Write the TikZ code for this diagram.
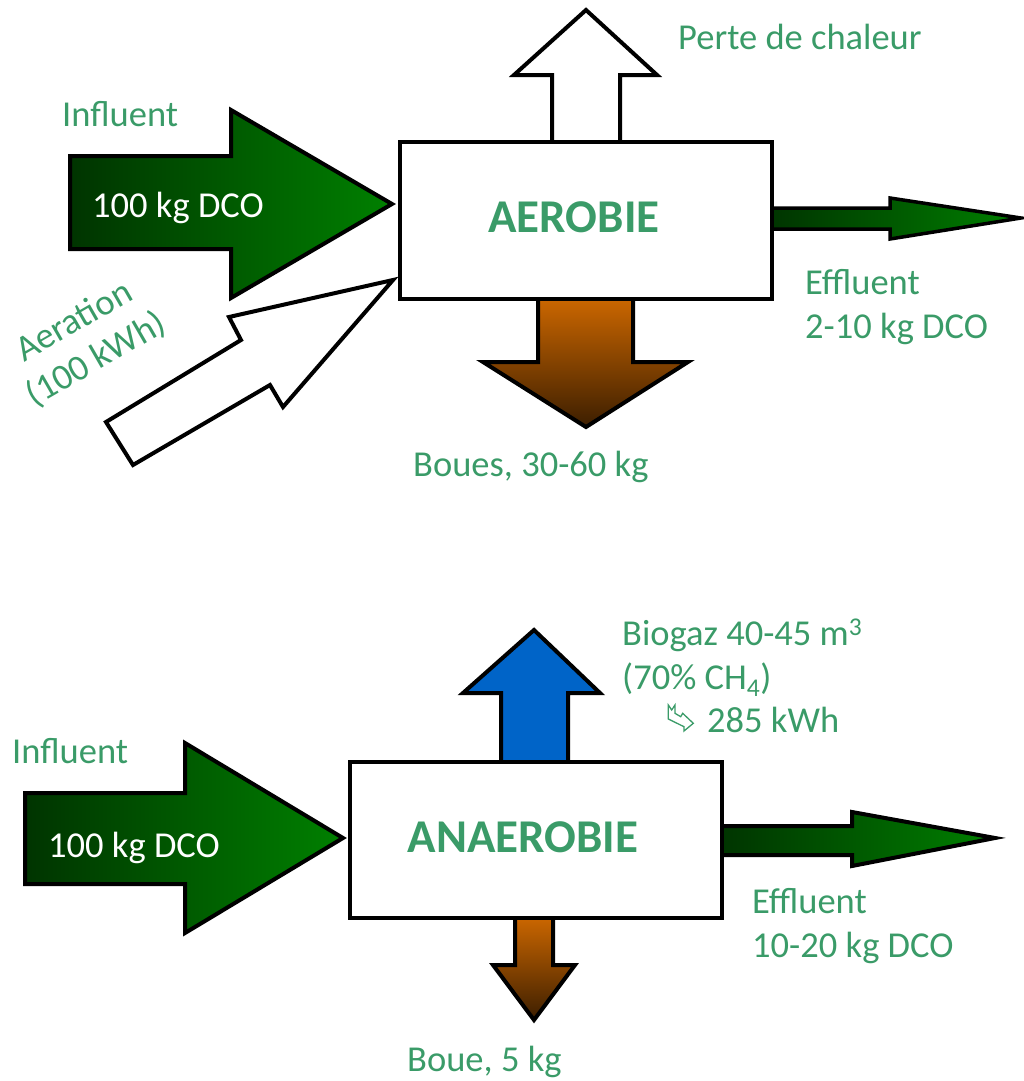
\documentclass[tikz,border=0pt]{standalone}
\usepackage{fontspec}
\setmainfont{Carlito}
\definecolor{txtgreen}{RGB}{58,155,104}
\definecolor{dkgreen}{RGB}{0,52,0}
\definecolor{ltgreen}{RGB}{0,128,0}
\definecolor{orng}{RGB}{206,104,0}
\definecolor{brwn}{RGB}{60,30,0}
\definecolor{bgblue}{RGB}{0,100,200}
\tikzset{
  lbl/.style={text=txtgreen, font=\fontsize{36.5}{44}\selectfont, inner sep=0pt, anchor=base west},
  inlbl/.style={text=white, font=\fontsize{36.5}{44}\selectfont, inner sep=0pt, anchor=base west},
  title/.style={text=txtgreen, font=\fontsize{47}{56}\selectfont\bfseries, inner sep=0pt, anchor=base},
  procbox/.style={draw=black, line width=3.6pt, fill=white},
  arr/.style={draw=black, line width=4pt, line join=miter},
  greenarr/.style={arr, left color=dkgreen, right color=ltgreen},
  mudarr/.style={arr, top color=orng, bottom color=brwn},
}
\begin{document}
\begin{tikzpicture}[x=1pt,y=-1pt]
\useasboundingbox (0,0) rectangle (1023,1081);

% ===== AEROBIE =====
% Influent arrow
\draw[greenarr] (70,156) -- (231,156) -- (231,110) -- (392,204) -- (231,298) -- (231,249) -- (70,249) -- cycle;
% Aeration arrow
\draw[arr, fill=white] (106,422) -- (241,340) -- (229,317) -- (393,280) -- (283,407) -- (270,385) -- (133,465) -- cycle;
% Heat loss arrow
\draw[arr, fill=white] (552,142) -- (552,75) -- (514,75) -- (586,10) -- (657,75) -- (620,75) -- (620,142);
% Effluent arrow
\draw[greenarr, line width=3.5pt] (770,208) -- (890,208) -- (890,198) -- (1021,218) -- (890,239) -- (890,229) -- (770,229) -- cycle;
% Sludge arrow
\draw[mudarr] (538,296) -- (538,362) -- (483,362) -- (586,427) -- (688,362) -- (633,362) -- (633,296);
% Box
\node[procbox, minimum width=372pt, minimum height=157pt, anchor=north west] (aer) at (398,140) {};
\node[title] (aertitle) at (574,232) {AEROBIE};

\node[lbl] (perte) at (678,49) {Perte de chaleur};
\node[lbl] (infl1) at (62,126) {Influent};
\node[inlbl] (dco1) at (92,217) {100 kg DCO};
\node[lbl] (eff1) at (805,294) {Effluent};
\node[lbl] (eff1b) at (805,338) {2-10 kg DCO};
\node[lbl] (boues) at (413,476) {Boues, 30-60 kg};
\node[lbl, anchor=center, align=center, rotate=30] (aera) at (85.5,341) {Aeration\\(100 kWh)};

% ===== ANAEROBIE =====
\draw[greenarr] (25,793) -- (185,793) -- (185,743) -- (343,838) -- (185,933) -- (185,884) -- (25,884) -- cycle;
% Biogas arrow
\draw[arr, fill=bgblue] (501,761) -- (501,693) -- (463,693) -- (534,630) -- (600,693) -- (568,693) -- (568,761);
% Effluent arrow
\draw[greenarr] (720,826) -- (852,826) -- (852,812) -- (995,838) -- (852,866) -- (852,855) -- (720,855) -- cycle;
% Sludge arrow
\draw[mudarr] (515,915) -- (515,965) -- (493,965) -- (534,1020) -- (575,965) -- (553,965) -- (553,915);
% Box
\node[procbox, minimum width=372pt, minimum height=156pt, anchor=north west] (ana) at (348,760) {};
\node[title] (anatitle) at (523,852) {ANAEROBIE};

\node[lbl] (bio1) at (622,645) {Biogaz 40-45 m\textsuperscript{3}};
\node[lbl] (bio2) at (622,689) {(70\% CH\textsubscript{4})};
\node[lbl] (bio3) at (707,732) {285 kWh};
\draw[txtgreen, line width=1.3pt, line join=miter] (668.3,705) -- (671.7,710) -- (675,705) -- (675,713.3) -- (680.7,716.7) -- (682.7,713.3) -- (693.3,723.3) -- (684,731) -- (684,726.7) -- (668.3,719) -- cycle;
\node[lbl] (infl2) at (12,763) {Influent};
\node[inlbl] (dco2) at (48,857) {100 kg DCO};
\node[lbl] (eff2) at (752,913) {Effluent};
\node[lbl] (eff2b) at (752,957) {10-20 kg DCO};
\node[lbl] (boue) at (407,1071) {Boue, 5 kg};
\end{tikzpicture}
\end{document}
